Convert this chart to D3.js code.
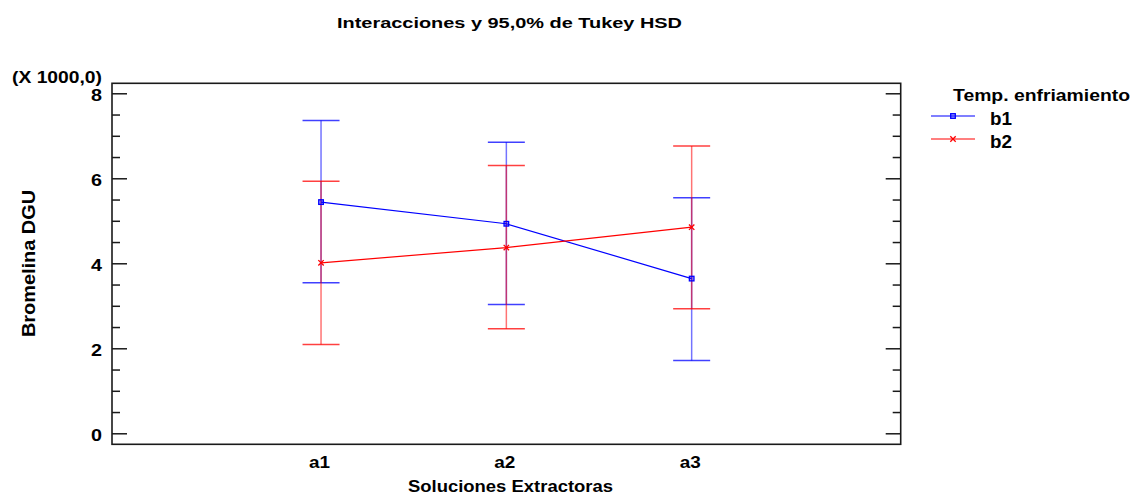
<!DOCTYPE html>
<html>
<head>
<meta charset="utf-8">
<script src="https://cdn.jsdelivr.net/npm/d3@7/dist/d3.min.js"></script>
<style>
  html, body { margin: 0; padding: 0; background: #fff; }
  svg { display: block; }
  text { font-family: "Liberation Sans", Arial, sans-serif; font-weight: bold; fill: #000; }
</style>
</head>
<body>
<svg id="chart" width="1132" height="495"></svg>
<script>
// Factor levels on the x axis
const categories = ["a1", "a2", "a3"];

// Bromelina DGU (x 1000) — means and Tukey HSD interval limits per level of b
const seriesNames = ["b1", "b2"];
const b1Mean  = [5.44, 4.93, 3.64];
const b1Lower = [3.54, 3.03, 1.71];
const b1Upper = [7.36, 6.85, 5.54];
const b2Mean  = [4.01, 4.37, 4.85];
const b2Lower = [2.09, 2.46, 2.93];
const b2Upper = [5.93, 6.30, 6.76];

// Axis ticks
const yMajorTicks = [0, 2, 4, 6, 8];
const yMinorTicks = [0, 0.5, 1, 1.5, 2, 2.5, 3, 3.5, 4, 4.5, 5, 5.5, 6, 6.5, 7, 7.5, 8];

const series = [
  { name: seriesNames[0], mean: b1Mean, lower: b1Lower, upper: b1Upper, color: "#0000ff", marker: "square" },
  { name: seriesNames[1], mean: b2Mean, lower: b2Lower, upper: b2Upper, color: "#ff0000", marker: "cross" }
];

const svg = d3.select("#chart");

const plot = { left: 112, right: 900.7, top: 83.3, bottom: 444.3 };

const x = d3.scalePoint()
  .domain(categories)
  .range([plot.left, plot.right])
  .padding(1.128);

const y = d3.scaleLinear()
  .domain([-0.259, 8.235])
  .range([plot.bottom, plot.top]);

// Title
svg.append("text")
  .attr("x", 337).attr("y", 28)
  .attr("font-size", 15.5)
  .attr("textLength", 345).attr("lengthAdjust", "spacingAndGlyphs")
  .text("Interacciones y 95,0% de Tukey HSD");

// Scale note above the y axis
svg.append("text")
  .attr("x", 12).attr("y", 83)
  .attr("font-size", 17)
  .attr("textLength", 90).attr("lengthAdjust", "spacingAndGlyphs")
  .text("(X 1000,0)");

// Frame
svg.append("rect")
  .attr("x", plot.left).attr("y", plot.top)
  .attr("width", plot.right - plot.left).attr("height", plot.bottom - plot.top)
  .attr("fill", "none").attr("stroke", "#1a1a1a").attr("stroke-width", 1.6);

// Left axis: minor ticks, then major ticks with labels
const leftMinor = svg.append("g")
  .attr("transform", `translate(${plot.left},0)`)
  .call(d3.axisLeft(y).tickValues(yMinorTicks.filter(v => !yMajorTicks.includes(v)))
    .tickSizeInner(-8).tickSizeOuter(0).tickFormat(""));
leftMinor.select(".domain").remove();

const leftMajor = svg.append("g")
  .attr("transform", `translate(${plot.left},0)`)
  .call(d3.axisLeft(y).tickValues(yMajorTicks)
    .tickSizeInner(-15).tickSizeOuter(0).tickPadding(10).tickFormat(d3.format("d")));
leftMajor.select(".domain").remove();
leftMajor.selectAll("text")
  .attr("font-size", 17).attr("font-family", null)
  .attr("dy", "0.44em")
  .attr("textLength", 11).attr("lengthAdjust", "spacingAndGlyphs");

// Right axis: mirrored ticks pointing inward
const rightMinor = svg.append("g")
  .attr("transform", `translate(${plot.right},0)`)
  .call(d3.axisRight(y).tickValues(yMinorTicks.filter(v => !yMajorTicks.includes(v)))
    .tickSizeInner(-8).tickSizeOuter(0).tickFormat(""));
rightMinor.select(".domain").remove();

const rightMajor = svg.append("g")
  .attr("transform", `translate(${plot.right},0)`)
  .call(d3.axisRight(y).tickValues(yMajorTicks)
    .tickSizeInner(-15).tickSizeOuter(0).tickFormat(""));
rightMajor.select(".domain").remove();

svg.selectAll(".tick line").attr("stroke", "#1a1a1a").attr("stroke-width", 1.5);

// Bottom axis labels (no tick marks)
const bottom = svg.append("g")
  .attr("transform", `translate(0,${plot.bottom})`)
  .call(d3.axisBottom(x).tickSize(0).tickPadding(0));
bottom.select(".domain").remove();
bottom.selectAll("text")
  .attr("font-size", 16).attr("font-family", null)
  .attr("dy", 0).attr("y", 24).attr("dx", -2)
  .attr("textLength", 21).attr("lengthAdjust", "spacingAndGlyphs");

// Axis titles
svg.append("text")
  .attr("x", 408).attr("y", 491.5)
  .attr("font-size", 17)
  .attr("textLength", 205).attr("lengthAdjust", "spacingAndGlyphs")
  .text("Soluciones Extractoras");

svg.append("text")
  .attr("transform", "translate(35,337) rotate(-90)")
  .attr("font-size", 18)
  .attr("textLength", 147).attr("lengthAdjust", "spacingAndGlyphs")
  .text("Bromelina DGU");

// Error bars (interval lines and caps)
const capHalf = 18.5;
series.forEach(s => {
  const g = svg.append("g").attr("class", "errbar-" + s.name);
  categories.forEach((c, i) => {
    const cx = x(c);
    g.append("line")
      .attr("x1", cx).attr("x2", cx)
      .attr("y1", y(s.lower[i])).attr("y2", y(s.upper[i]))
      .attr("stroke", s.color).attr("stroke-opacity", 0.55).attr("stroke-width", 1.5);
    [s.lower[i], s.upper[i]].forEach(v => {
      g.append("line")
        .attr("x1", cx - capHalf).attr("x2", cx + capHalf)
        .attr("y1", y(v)).attr("y2", y(v))
        .attr("stroke", s.color).attr("stroke-opacity", 0.75).attr("stroke-width", 1.5);
    });
  });
});

// Mean lines and markers
function drawMarker(g, type, cx, cy, color) {
  if (type === "square") {
    g.append("rect")
      .attr("x", cx - 2.3).attr("y", cy - 2.3)
      .attr("width", 4.6).attr("height", 4.6)
      .attr("fill", color).attr("fill-opacity", 0.35)
      .attr("stroke", color).attr("stroke-width", 1.3);
  } else {
    g.append("path")
      .attr("d", `M${cx - 2.7},${cy - 2.7}L${cx + 2.7},${cy + 2.7}M${cx - 2.7},${cy + 2.7}L${cx + 2.7},${cy - 2.7}`)
      .attr("stroke", color).attr("stroke-width", 1.3);
  }
}

const line = d3.line()
  .x(d => x(d.cat))
  .y(d => y(d.v));

series.forEach(s => {
  const pts = categories.map((c, i) => ({ cat: c, v: s.mean[i] }));
  const g = svg.append("g").attr("class", "means-" + s.name);
  g.append("path")
    .attr("d", line(pts))
    .attr("fill", "none").attr("stroke", s.color).attr("stroke-width", 1.2);
  pts.forEach(p => drawMarker(g, s.marker, x(p.cat), y(p.v), s.color));
});

// Legend
const legend = svg.append("g").attr("class", "legend");
legend.append("text")
  .attr("x", 953).attr("y", 101)
  .attr("font-size", 16)
  .attr("textLength", 177).attr("lengthAdjust", "spacingAndGlyphs")
  .text("Temp. enfriamiento");

const legendRows = [116, 139];
series.forEach((s, i) => {
  const ly = legendRows[i];
  legend.append("line")
    .attr("x1", 931).attr("x2", 975)
    .attr("y1", ly).attr("y2", ly)
    .attr("stroke", s.color).attr("stroke-width", 1.2);
  drawMarker(legend, s.marker, 953, ly, s.color);
  legend.append("text")
    .attr("x", 990).attr("y", ly + 8.5)
    .attr("font-size", 17.5)
    .attr("textLength", 22).attr("lengthAdjust", "spacingAndGlyphs")
    .text(s.name);
});
</script>
</body>
</html>
